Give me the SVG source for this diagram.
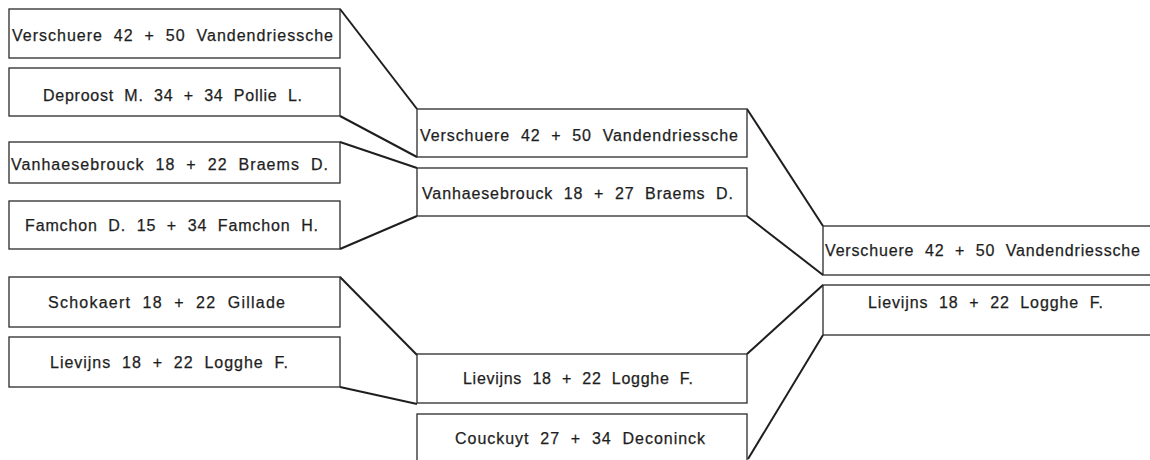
<svg xmlns="http://www.w3.org/2000/svg" width="1150" height="460" viewBox="0 0 1150 460">
<style>
.box{fill:#fff;stroke:#2a2a2a;stroke-width:1.3}
.lbl{font-family:"Liberation Sans",Arial,sans-serif;font-size:16px;fill:#1e1e1e;white-space:pre;stroke:#1e1e1e;stroke-width:0.25}
.con{fill:none;stroke:#1e1e1e;stroke-width:2;stroke-linejoin:miter}
</style>
<rect width="1150" height="460" fill="#fff"/>
<g id="connectors">
<polyline class="con" points="340,9 417,109"/>
<polyline class="con" points="340,116 417,157"/>
<polyline class="con" points="340,142 417,168"/>
<polyline class="con" points="340,249 417,216"/>
<polyline class="con" points="340,277 417,355"/>
<polyline class="con" points="340,387 417,404"/>
<polyline class="con" points="747,109 823,226"/>
<polyline class="con" points="747,216 823,275"/>
<polyline class="con" points="747,354 823,285"/>
<polyline class="con" points="748,459 823,335"/>
</g>
<g id="n1"><rect class="box" x="9" y="9" width="331" height="49"/><text class="lbl" xml:space="preserve" x="12" y="41" textLength="321" lengthAdjust="spacing">Verschuere  42  +  50  Vandendriessche</text></g>
<g id="n2"><rect class="box" x="9" y="68" width="331" height="48"/><text class="lbl" xml:space="preserve" x="43" y="101" textLength="259" lengthAdjust="spacing">Deproost  M.  34  +  34  Pollie  L.</text></g>
<g id="n3"><rect class="box" x="9" y="142" width="331" height="41"/><text class="lbl" xml:space="preserve" x="11" y="170" textLength="317" lengthAdjust="spacing">Vanhaesebrouck  18  +  22  Braems  D.</text></g>
<g id="n4"><rect class="box" x="9" y="201" width="331" height="48"/><text class="lbl" xml:space="preserve" x="25" y="231" textLength="293" lengthAdjust="spacing">Famchon  D.  15  +  34  Famchon  H.</text></g>
<g id="n5"><rect class="box" x="9" y="277" width="331" height="50"/><text class="lbl" xml:space="preserve" x="48" y="308" textLength="237" lengthAdjust="spacing">Schokaert  18  +  22  Gillade</text></g>
<g id="n6"><rect class="box" x="9" y="337" width="331" height="50"/><text class="lbl" xml:space="preserve" x="50" y="368" textLength="238" lengthAdjust="spacing">Lievijns  18  +  22  Logghe  F.</text></g>
<g id="n7"><rect class="box" x="417" y="109" width="330" height="48"/><text class="lbl" xml:space="preserve" x="420" y="141" textLength="318" lengthAdjust="spacing">Verschuere  42  +  50  Vandendriessche</text></g>
<g id="n8"><rect class="box" x="417" y="168" width="330" height="48"/><text class="lbl" xml:space="preserve" x="422" y="199" textLength="311" lengthAdjust="spacing">Vanhaesebrouck  18  +  27  Braems  D.</text></g>
<g id="n9"><rect class="box" x="417" y="354" width="330" height="49"/><text class="lbl" xml:space="preserve" x="463" y="384" textLength="230" lengthAdjust="spacing">Lievijns  18  +  22  Logghe  F.</text></g>
<g id="n10"><rect class="box" x="417" y="414" width="330" height="60"/><text class="lbl" xml:space="preserve" x="455" y="444" textLength="250" lengthAdjust="spacing">Couckuyt  27  +  34  Deconinck</text></g>
<g id="n11"><rect class="box" x="823" y="226" width="340" height="49"/><text class="lbl" xml:space="preserve" x="825" y="256" textLength="315" lengthAdjust="spacing">Verschuere  42  +  50  Vandendriessche</text></g>
<g id="n12"><rect class="box" x="823" y="285" width="340" height="50"/><text class="lbl" xml:space="preserve" x="868" y="308" textLength="235" lengthAdjust="spacing">Lievijns  18  +  22  Logghe  F.</text></g>
</svg>
